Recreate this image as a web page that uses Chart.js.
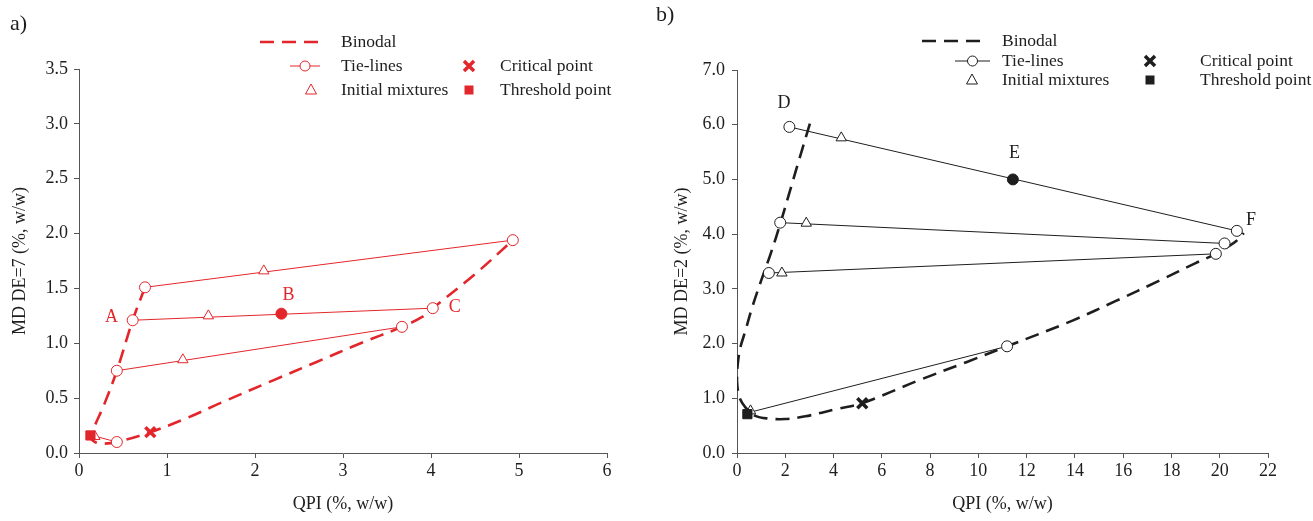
<!DOCTYPE html>
<html>
<head>
<meta charset="utf-8">
<script src="https://cdn.jsdelivr.net/npm/chart.js@4.4.0/dist/chart.umd.min.js"></script>
<style>
  body { margin: 0; background: #fff; }
  .panel { position: absolute; top: 0; height: 521px; }
</style>
</head>
<body>
<div class="panel" style="left:0;width:656px"><canvas id="chart-a"></canvas></div>
<div class="panel" style="left:656px;width:657px"><canvas id="chart-b"></canvas></div>
<script>
// ---- panel a) data (QPI vs MD DE=7) ----
const binodalA = [[0.75,1.51],[0.61,1.21],[0.43,0.75],[0.29,0.45],[0.15,0.19],[0.14,0.13],[0.18,0.10],[0.27,0.085],[0.43,0.10],[0.81,0.19],[1.2,0.31],[1.62,0.46],[2.2,0.66],[2.7,0.83],[3.2,1.0],[3.67,1.15],[3.9,1.24],[4.02,1.32],[4.5,1.63],[4.93,1.94]];
const tieLinesA = [
  [[0.75,1.51],[4.93,1.94]],
  [[0.61,1.21],[4.02,1.32]],
  [[0.43,0.75],[3.67,1.15]],
  [[0.15,0.16],[0.43,0.10]],
];
const mixturesA = [[2.10,1.66],[1.47,1.25],[1.18,0.85],[0.18,0.15]];
const pointB = [[2.30,1.27]];
const criticalA = [[0.81,0.19]];
const thresholdA = [[0.13,0.16]];
const labelTextA = ["A", "B", "C"];
const labelPosA = [[0.37,1.24],[2.38,1.44],[4.27,1.33]];

// ---- panel b) data (QPI vs MD DE=2) ----
const binodalB = [[3.02,6.02],[2.6,5.4],[2.2,4.8],[1.8,4.2],[1.4,3.65],[1.0,3.15],[0.62,2.65],[0.34,2.22],[0.14,1.93],[0.03,1.62],[0.0,1.32],[0.1,1.02],[0.34,0.84],[0.76,0.68],[1.31,0.63],[2.0,0.62],[2.83,0.67],[4.2,0.81],[5.19,0.91],[7.54,1.33],[9.5,1.66],[11.19,1.95],[13.9,2.42],[15.7,2.78],[17.5,3.15],[19.0,3.47],[19.84,3.64],[20.3,3.76],[20.7,3.88],[21.0,4.02]];
const tieLinesB = [
  [[2.17,5.96],[20.71,4.06]],
  [[1.79,4.21],[20.2,3.83]],
  [[1.32,3.29],[19.84,3.64]],
  [[0.50,0.74],[11.19,1.95]],
];
const mixturesB = [[4.32,5.76],[2.87,4.20],[1.86,3.29],[0.56,0.77]];
const pointE = [[11.43,5.0]];
const criticalB = [[5.19,0.91]];
const thresholdB = [[0.43,0.71]];
const labelTextB = ["D", "E", "F"];
const labelPosB = [[1.95,6.40],[11.5,5.48],[21.3,4.25]];

const RED = "#e3262b";
const INK = "#1e1e1e";
const AXIS = "#555";
const FONT = "Liberation Serif";

const pts = (arr) => arr.map(([x, y]) => ({ x, y }));

function buildDatasets(color, binodal, tieLines, mixtures, filled, critical, threshold) {
  const sets = [];
  // markers on top (dataset 0 is drawn last)
  sets.push({ data: pts(threshold), pointStyle: "rect", pointRadius: 6.5, backgroundColor: color, borderColor: color, borderWidth: 1, showLine: false });
  sets.push({ data: pts(critical), pointStyle: "crossRot", pointRadius: 7, borderColor: color, borderWidth: 3.5, showLine: false });
  sets.push({ data: pts(filled), pointStyle: "circle", pointRadius: 5.5, backgroundColor: color, borderColor: color, borderWidth: 1, showLine: false });
  sets.push({ data: pts(mixtures), pointStyle: "triangle", pointRadius: 6, backgroundColor: "#fff", borderColor: color, borderWidth: 1, showLine: false });
  tieLines.forEach((tl, i) => {
    const last = i === tieLines.length - 1;
    sets.push({
      data: pts(tl), showLine: true, tension: 0,
      borderColor: color, borderWidth: 1,
      pointStyle: "circle", pointRadius: last ? [0, 5.5] : 5.5,
      pointBackgroundColor: "#fff", pointBorderColor: color, pointBorderWidth: 1,
    });
  });
  sets.push({
    data: pts(binodal), showLine: true, tension: 0.35,
    borderColor: color, borderWidth: 2.6, borderDash: [14, 8],
    pointRadius: 0, fill: false,
  });
  return sets;
}

// text labels (A, B, C ...) and the panel legend
function overlayPlugin(id, color, tag, tagY, labelText, labelPos, legend) {
  return {
    id: id,
    afterDatasetsDraw(chart) {
      const c = chart.ctx;
      const { x, y } = chart.scales;
      c.save();
      c.fillStyle = color;
      c.font = "18px '" + FONT + "'";
      c.textAlign = "center";
      c.textBaseline = "middle";
      labelText.forEach((t, i) => {
        c.fillText(t, x.getPixelForValue(labelPos[i][0]), y.getPixelForValue(labelPos[i][1]));
      });

      c.fillStyle = INK;
      c.font = "22px '" + FONT + "'";
      c.textAlign = "left";
      c.fillText(tag, legend.tagX, tagY);

      // legend
      c.font = "17.5px '" + FONT + "'";
      c.strokeStyle = color;
      // binodal
      c.lineWidth = 2.6;
      c.setLineDash([14, 8]);
      c.beginPath();
      c.moveTo(legend.dash[0], legend.rows[0]);
      c.lineTo(legend.dash[1], legend.rows[0]);
      c.stroke();
      c.setLineDash([]);
      // tie-lines
      c.lineWidth = 1;
      c.beginPath();
      c.moveTo(legend.tie[0], legend.rows[1]);
      c.lineTo(legend.tie[1], legend.rows[1]);
      c.stroke();
      const cx = (legend.tie[0] + legend.tie[1]) / 2;
      c.fillStyle = "#fff";
      c.beginPath();
      c.arc(cx, legend.rows[1], 5, 0, Math.PI * 2);
      c.fill();
      c.stroke();
      // triangle
      const tx = legend.tri, ty = legend.rows[2];
      c.beginPath();
      c.moveTo(tx, ty - 6);
      c.lineTo(tx + 5.5, ty + 4);
      c.lineTo(tx - 5.5, ty + 4);
      c.closePath();
      c.fill();
      c.stroke();
      // critical X
      const kx = legend.sym, ky = legend.rows[1];
      c.lineWidth = 3.5;
      c.beginPath();
      c.moveTo(kx - 5, ky - 5); c.lineTo(kx + 5, ky + 5);
      c.moveTo(kx + 5, ky - 5); c.lineTo(kx - 5, ky + 5);
      c.stroke();
      // threshold square
      c.fillStyle = color;
      c.fillRect(legend.sym - 4.5, legend.rows[2] - 4.5, 9, 9);

      c.fillStyle = INK;
      c.textAlign = "left";
      c.fillText("Binodal", legend.text1, legend.rows[0]);
      c.fillText("Tie-lines", legend.text1, legend.rows[1]);
      c.fillText("Initial mixtures", legend.text1, legend.rows[2]);
      c.fillText("Critical point", legend.text2, legend.rows[1]);
      c.fillText("Threshold point", legend.text2, legend.rows[2]);
      c.restore();
    },
  };
}

function axes(xMax, xStep, yMax, yStep, yTitle, yWidth, yPad) {
  const font = { family: FONT, size: 18 };
  return {
    x: {
      type: "linear", min: 0, max: xMax,
      ticks: { stepSize: xStep, color: INK, font: font, padding: 2 },
      grid: { drawOnChartArea: false, drawTicks: true, tickLength: 5, color: AXIS },
      border: { color: AXIS, width: 1 },
      title: { display: true, text: "QPI (%, w/w)", color: INK, font: { family: FONT, size: 18 }, padding: 0 },
      afterFit: (s) => { s.height = 62; },
    },
    y: {
      type: "linear", min: 0, max: yMax,
      ticks: { stepSize: yStep, color: INK, font: font, padding: yPad, callback: (v) => v.toFixed(1) },
      grid: { drawOnChartArea: false, drawTicks: true, tickLength: 5, color: AXIS },
      border: { color: AXIS, width: 1 },
      title: { display: true, text: yTitle, color: INK, font: { family: FONT, size: 18 }, padding: 0 },
      afterFit: (s) => { s.width = yWidth; },
    },
  };
}

// ---- chart a ----
new Chart(document.getElementById("chart-a").getContext("2d"), {
  type: "scatter",
  data: { datasets: buildDatasets(RED, binodalA, tieLinesA, mixturesA, pointB, criticalA, thresholdA) },
  options: {
    responsive: true,
    maintainAspectRatio: false,
    animation: false,
    layout: { padding: { left: 9, right: 49, top: 69, bottom: 6 } },
    plugins: { legend: { display: false }, tooltip: { enabled: false } },
    scales: axes(6, 1, 3.5, 0.5, "MD DE=7 (%, w/w)", 70, 6),
  },
  plugins: [overlayPlugin("overlayA", RED, "a)", 24, labelTextA, labelPosA, {
    tagX: 10, rows: [42, 66, 90], dash: [260, 320], tie: [290, 320], tri: 311, sym: 469, text1: 341, text2: 500,
  })],
});

// ---- chart b ----
new Chart(document.getElementById("chart-b").getContext("2d"), {
  type: "scatter",
  data: { datasets: buildDatasets(INK, binodalB, tieLinesB, mixturesB, pointE, criticalB, thresholdB) },
  options: {
    responsive: true,
    maintainAspectRatio: false,
    animation: false,
    layout: { padding: { left: 15, right: 45, top: 70, bottom: 6 } },
    plugins: { legend: { display: false }, tooltip: { enabled: false } },
    scales: axes(22, 2, 7, 1, "MD DE=2 (%, w/w)", 66, 7),
  },
  plugins: [overlayPlugin("overlayB", INK, "b)", 15, labelTextB, labelPosB, {
    tagX: 0, rows: [41, 61, 80], dash: [266, 329], tie: [299, 334], tri: 316, sym: 494, text1: 346, text2: 544,
  })],
});
</script>
</body>
</html>
